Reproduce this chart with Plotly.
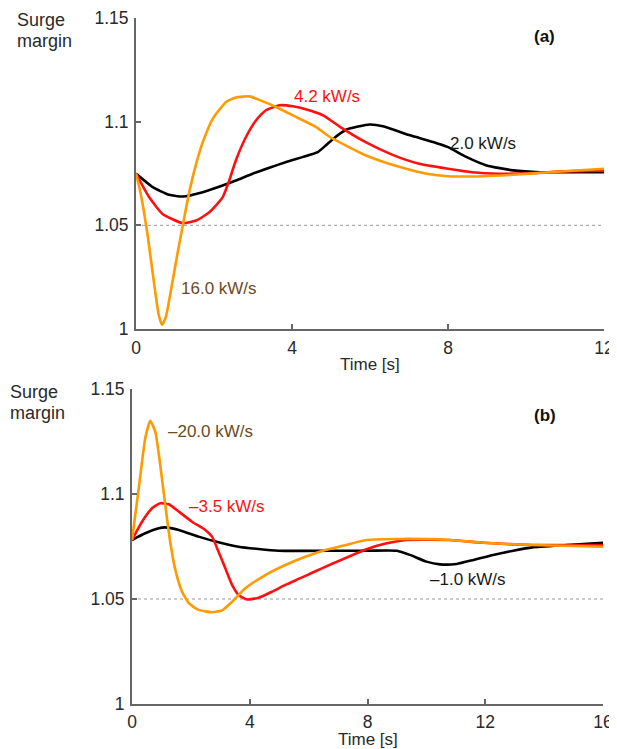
import plotly.graph_objects as go

# ---------------- data: panel (a) ----------------
ta_black = [0, 0.43, 0.85, 1.2, 1.71, 2.22, 2.56, 2.99, 3.42, 3.85, 4.27, 4.66, 4.87, 5.06, 5.4, 5.99, 6.33, 7.03, 7.62, 8.0, 8.48, 8.99, 9.67, 10.36, 11.0, 12.0]
ya_black = [1.075, 1.0684, 1.0647, 1.0639, 1.066, 1.0692, 1.0716, 1.0749, 1.0778, 1.0805, 1.0829, 1.0853, 1.0886, 1.0918, 1.0962, 1.0986, 1.0978, 1.0934, 1.0902, 1.0877, 1.0829, 1.0789, 1.0765, 1.0756, 1.0756, 1.0756]

ta_red = [0, 0.34, 0.68, 1.2, 1.54, 1.88, 2.22, 2.39, 2.56, 2.82, 3.08, 3.33, 3.68, 4.02, 4.44, 4.8, 5.23, 5.9, 6.58, 7.26, 8.0, 8.62, 9.3, 10.15, 11.0, 12.0]
ya_red = [1.075, 1.0635, 1.0555, 1.051, 1.0523, 1.0563, 1.0635, 1.0716, 1.0813, 1.0926, 1.1007, 1.1055, 1.1079, 1.1074, 1.1055, 1.103, 1.0975, 1.0900, 1.0840, 1.0797, 1.0773, 1.0756, 1.0749, 1.0752, 1.0761, 1.0764]

ta_orange = [0, 0.1, 0.2, 0.3, 0.4, 0.5, 0.58, 0.667, 0.76, 0.9, 1.05, 1.2, 1.37, 1.54, 1.71, 1.97, 2.31, 2.56, 2.91, 3.16, 3.59, 4.1, 4.62, 4.97, 5.9, 6.77, 7.45, 8.0, 8.9, 9.76, 10.6, 12.0]
ya_orange = [1.075, 1.067, 1.057, 1.045, 1.031, 1.017, 1.007, 1.002, 1.0055, 1.019, 1.035, 1.050, 1.0665, 1.0795, 1.090, 1.1015, 1.1095, 1.1117, 1.1122, 1.1105, 1.1071, 1.1023, 1.0974, 1.0926, 1.0837, 1.0781, 1.0749, 1.0737, 1.0737, 1.0745, 1.0756, 1.0773]

# ---------------- data: panel (b) ----------------
tb_black = [0, 0.45, 0.91, 1.13, 1.59, 2.26, 2.94, 3.62, 4.30, 4.98, 5.89, 6.8, 8.0, 9.0, 9.44, 10.0, 10.46, 11.03, 11.6, 12.27, 12.95, 13.6, 14.77, 16.0]
yb_black = [1.0781, 1.0813, 1.0837, 1.0841, 1.0829, 1.0797, 1.077, 1.0749, 1.0738, 1.073, 1.0729, 1.073, 1.073, 1.073, 1.071, 1.0678, 1.0665, 1.0667, 1.0686, 1.071, 1.073, 1.0746, 1.0757, 1.0768]

tb_red = [0, 0.34, 0.68, 0.96, 1.25, 1.59, 2.04, 2.49, 2.72, 2.94, 3.17, 3.40, 3.62, 3.91, 4.30, 4.76, 5.21, 5.7, 6.12, 6.84, 7.97, 8.65, 9.33, 10.8, 11.93, 13.6, 16.0]
yb_red = [1.0781, 1.0868, 1.0932, 1.0956, 1.0951, 1.0916, 1.0868, 1.0829, 1.0797, 1.0725, 1.0646, 1.0567, 1.0519, 1.0498, 1.0506, 1.0535, 1.0567, 1.0598, 1.0625, 1.067, 1.0737, 1.0765, 1.0781, 1.0781, 1.0768, 1.0757, 1.0757]

tb_orange = [0, 0.23, 0.45, 0.62, 0.79, 0.96, 1.13, 1.30, 1.47, 1.70, 1.93, 2.26, 2.72, 3.06, 3.40, 3.85, 4.53, 5.21, 5.89, 6.57, 7.2, 7.97, 9.1, 10.8, 11.93, 13.6, 16.0]
yb_orange = [1.0781, 1.1027, 1.1265, 1.1348, 1.1297, 1.1138, 1.0948, 1.0770, 1.0640, 1.0535, 1.048, 1.0448, 1.0437, 1.0446, 1.0487, 1.0551, 1.0614, 1.0662, 1.0701, 1.0733, 1.0755, 1.0781, 1.0786, 1.0781, 1.0768, 1.0757, 1.0749]

ref_level = 1.05
ytick_vals = [1.0, 1.05, 1.1, 1.15]
ytick_text = ["1", "1.05", "1.1", "1.15"]
xa_ticks = [0, 4, 8, 12]
xb_ticks = [0, 4, 8, 12, 16]

BLACK = "#000000"
RED = "#ff1010"
ORANGE = "#ff9a00"
BROWN = "#6b4a22"
FONT = "Liberation Sans, Arial, sans-serif"

fig = go.Figure()

def add(t, y, color, xa, ya):
    fig.add_trace(go.Scatter(x=t, y=y, mode="lines", xaxis=xa, yaxis=ya,
                             line=dict(color=color, width=2.6, shape="spline", smoothing=0.5),
                             showlegend=False, hoverinfo="skip"))

add(ta_black, ya_black, BLACK, "x", "y")
add(ta_red, ya_red, RED, "x", "y")
add(ta_orange, ya_orange, ORANGE, "x", "y")
add(tb_black, yb_black, BLACK, "x2", "y2")
add(tb_red, yb_red, RED, "x2", "y2")
add(tb_orange, yb_orange, ORANGE, "x2", "y2")

# page body adds an 8px offset; size the figure to the visible area
W, H = 617, 749
OFF = 8
FW, FH = W - OFF, H - OFF

def px_x(p):
    return (p - OFF) / FW

def px_y(p):
    return 1 - (p - OFF) / FH

axis_common = dict(showline=True, linecolor="#666666", linewidth=2, ticks="inside",
                   ticklen=5, tickcolor="#666666", tickwidth=1.5, showgrid=False, zeroline=False,
                   automargin=False,
                   tickfont=dict(family=FONT, size=17.5, color="#2a2a2a"), mirror=False)

fig.update_layout(
    width=FW, height=FH, margin=dict(l=0, r=0, t=0, b=0, pad=0),
    paper_bgcolor="white", plot_bgcolor="white",
    xaxis=dict(domain=[px_x(136), px_x(604)], range=[0, 12], tickvals=xa_ticks, anchor="y",
               ticklabelstandoff=2, **axis_common),
    yaxis=dict(domain=[px_y(329), px_y(18)], range=[1.0, 1.15], tickvals=ytick_vals,
               ticktext=ytick_text, anchor="x", ticklabelstandoff=2, **axis_common),
    xaxis2=dict(domain=[px_x(132), px_x(603)], range=[0, 16], tickvals=xb_ticks, anchor="y2",
                ticklabelstandoff=1, **axis_common),
    yaxis2=dict(domain=[px_y(704), px_y(389)], range=[1.0, 1.15], tickvals=ytick_vals,
                ticktext=ytick_text, anchor="x2", ticklabelstandoff=2, **axis_common),
)

fig.add_shape(type="line", xref="x", yref="y", x0=0, x1=12, y0=ref_level, y1=ref_level,
              line=dict(color="#999999", width=1, dash="dot"), layer="below")
fig.add_shape(type="line", xref="x2", yref="y2", x0=0, x1=16, y0=ref_level, y1=ref_level,
              line=dict(color="#999999", width=1, dash="dot"), layer="below")

def note(text, x, y, color="#2a2a2a", size=17, bold=False, xanchor="center"):
    fig.add_annotation(text=("<b>%s</b>" % text) if bold else text,
                       xref="paper", yref="paper", x=px_x(x), y=px_y(y),
                       xanchor=xanchor, yanchor="middle", showarrow=False,
                       font=dict(family=FONT, size=size, color=color))

note("4.2 kW/s", 327, 96, RED)
note("2.0 kW/s", 483, 144, "#1a1a1a")
note("16.0 kW/s", 219, 288, BROWN)
note("(a)", 544, 36, "#111111", bold=True)
note("Time [s]", 370, 364)
note("Surge", 15, 20, size=18, xanchor="left")
note("margin", 15, 41, size=18, xanchor="left")

note("\u201320.0 kW/s", 210, 432, BROWN)
note("\u20133.5 kW/s", 227, 506, RED)
note("\u20131.0 kW/s", 468, 579, "#1a1a1a")
note("(b)", 545, 415, "#111111", bold=True)
note("Time [s]", 368, 739)
note("Surge", 8, 392, size=18, xanchor="left")
note("margin", 8, 413, size=18, xanchor="left")

fig.write_html("out.html")
